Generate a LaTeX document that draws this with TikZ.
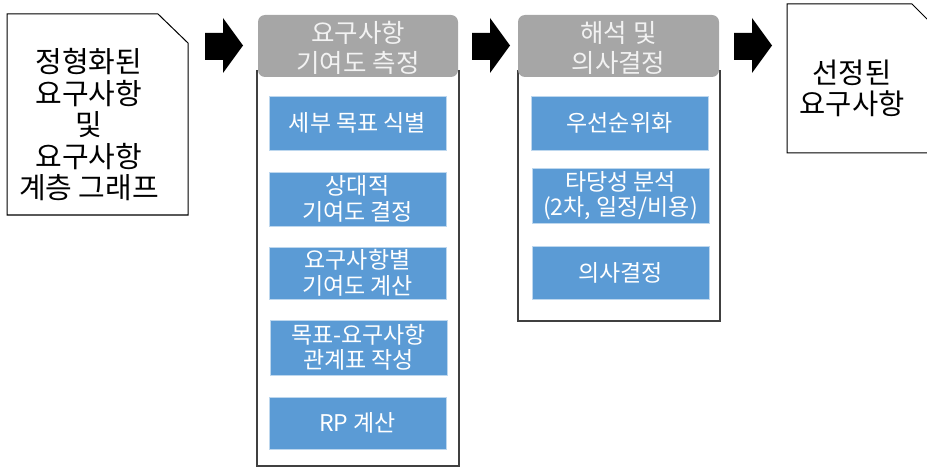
\documentclass[tikz,border=0pt]{standalone}
\usepackage{fontspec}
\setmainfont{Noto Sans CJK KR}
\definecolor{boxblue}{HTML}{5B9BD5}
\definecolor{boxedge}{HTML}{BDD7EE}
\definecolor{hdrgray}{HTML}{A6A6A6}
\definecolor{hdrtext}{HTML}{F2F2F2}
\definecolor{linegray}{HTML}{404040}
\begin{document}
\begin{tikzpicture}[x=1pt,y=-1pt,
  bluebox/.style={draw=boxedge, fill=boxblue, line width=0.8pt, text=white,
    font=\fontsize{23}{25.5}\selectfont, align=center, inner sep=0pt,
    minimum width=177, minimum height=54},
  header/.style={fill=hdrgray, rounded corners=7pt, inner sep=0pt,
    minimum width=200, minimum height=62},
  hdrlabel/.style={text=hdrtext, font=\fontsize{25.5}{30}\selectfont, align=center, inner sep=0pt},
  doclabel/.style={text=black, font=\fontsize{29}{31.5}\selectfont, align=center, inner sep=0pt},
  docshape/.style={draw=black, fill=white, line width=1pt, line join=miter},
  container/.style={draw=linegray, line width=1.4pt},
  blockarrow/.style={fill=black}
]
\useasboundingbox (0,0) rectangle (927,468);

% left document
\draw[docshape] (7,14) -- (158,14) -- (188,43) -- (188,215) -- (7,215) -- cycle;
\node[doclabel] (src) at (89,125) {정형화된\\요구사항\\및\\요구사항\\계층 그래프};

% right document
\draw[docshape] (787,4) -- (912,4) -- (942,34) -- (942,153) -- (787,153) -- cycle;
\node[doclabel, font=\fontsize{28.5}{31}\selectfont] (dst) at (852,88) {선정된\\요구사항};

% block arrows
\foreach \ax/\nm in {205/a1, 472/a2, 734/a3}{
  \fill[blockarrow] (\ax,33) -- (\ax+18,33) -- (\ax+18,18) -- (\ax+38,45.5)
     -- (\ax+18,73) -- (\ax+18,60) -- (\ax,60) -- cycle;
}

% containers
\draw[container] (257,70) -- (257,466) -- (459,466) -- (459,70);
\draw[container] (518,70) -- (518,321) -- (720,321) -- (720,70);

% headers
\node[header] (h1) at (358,46) {};
\node[hdrlabel] (h1t) at (358,48) {요구사항\\기여도 측정};
\node[header, minimum width=201] (h2) at (618.5,46) {};
\node[hdrlabel] (h2t) at (618.5,48) {해석 및\\의사결정};

% column 1 boxes
\node[bluebox] (b1) at (357.5,123) {세부 목표 식별};
\node[bluebox] (b2) at (357.5,199) {상대적\\기여도 결정};
\node[bluebox, minimum height=52] (b3) at (357.5,273) {요구사항별\\기여도 계산};
\node[bluebox, minimum height=55] (b4) at (358.5,347.5) {목표-요구사항\\관계표 작성};
\node[bluebox, minimum height=52] (b5) at (357.5,423) {RP 계산};

% column 2 boxes
\node[bluebox] (c1) at (619.5,123) {우선순위화};
\node[bluebox, minimum height=55] (c2) at (620.5,195.5) {타당성 분석\\(2차, 일정/비용)};
\node[bluebox, minimum height=53] (c3) at (620.5,272.5) {의사결정};
\end{tikzpicture}
\end{document}
